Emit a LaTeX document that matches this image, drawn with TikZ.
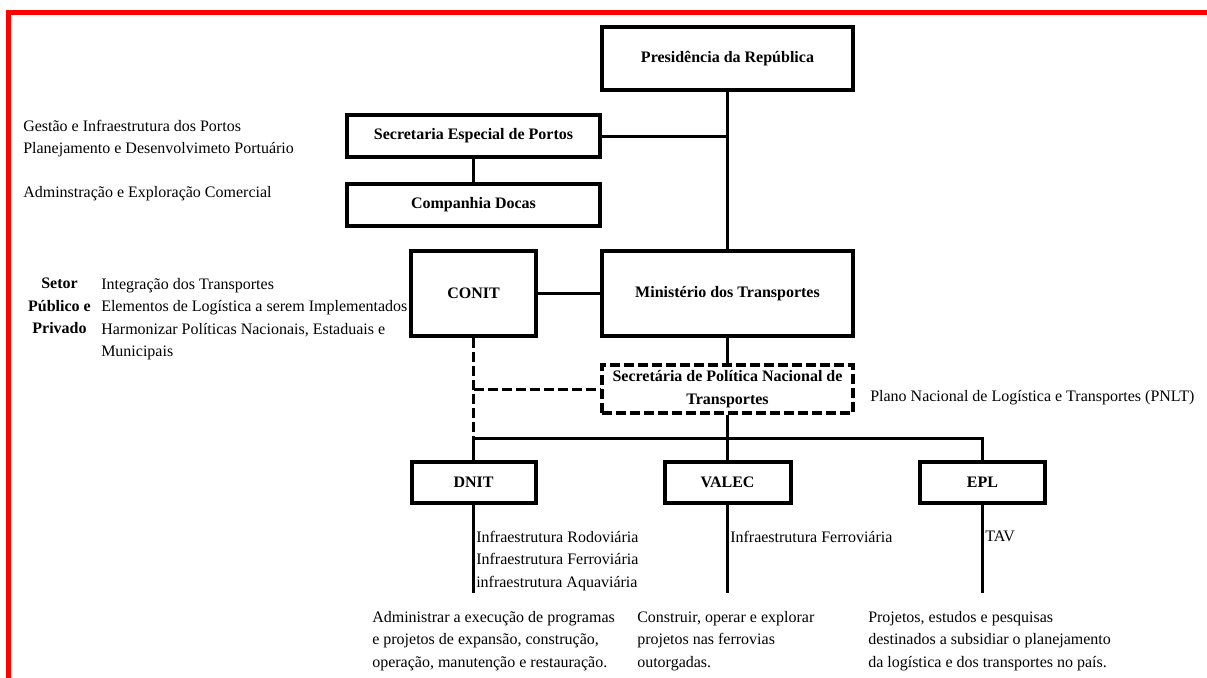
\documentclass[tikz,border=0pt]{standalone}
\usepackage{fontspec}
\setmainfont{Liberation Serif}
\newcommand{\orgfont}{\fontsize{12}{16.8}\selectfont}

\begin{document}
\begin{tikzpicture}[
    x=0.75pt, y=-0.75pt,
    % Caixas do organograma
    box/.style={draw, line width=3pt, font=\orgfont\bfseries, align=center, inner sep=0pt},
    % Caixa tracejada (secretaria)
    dbox/.style={box, dash pattern=on 7.5pt off 3pt},
    % Ligações entre as caixas
    conn/.style={line width=2.25pt},
    dconn/.style={conn, dash pattern=on 7.5pt off 3pt},
    % Textos explicativos
    note/.style={font=\orgfont, inner sep=0pt, align=left, anchor=north west},
    % Moldura vermelha
    frame/.style={red, line width=3.75pt}
]

\useasboundingbox (0,0) rectangle (1207,678);
\draw[frame] (8.5,678) -- (8.5,12.5) -- (1207,12.5);

% --- TOPO: PRESIDÊNCIA E PORTOS ---
\node[box, minimum width=188.25pt, minimum height=47.25pt] (pres) at (727.5,58.5) {Presidência da República};
\node[box, minimum width=189.75pt, minimum height=31.5pt] (sep) at (473.5,136) {Secretaria Especial de Portos};
\node[box, minimum width=189.75pt, minimum height=31.5pt] (docas) at (473.5,205) {Companhia Docas};

\node[note] (portosTxt) at (23,120) {Gestão e Infraestrutura dos Portos\\Planejamento e Desenvolvimeto Portuário};
\node[note] (docasTxt) at (23,186) {Adminstração e Exploração Comercial};

% --- MEIO: MINISTÉRIO, CONIT, SECRETARIA ---
\node[box, minimum width=93.75pt, minimum height=63.75pt] (conit) at (473.5,293.5) {CONIT};
\node[box, minimum width=188.25pt, minimum height=63.75pt] (min) at (727.5,293.5) {Ministério dos Transportes};
\node[dbox, minimum width=188.25pt, minimum height=36pt] (spnt) at (727.5,389) {Secretária de Política Nacional de\\Transportes};

\node[font=\orgfont\bfseries, inner sep=0pt, align=center, anchor=north] (setor) at (59.5,278) {Setor\\Público e\\Privado};
\node[note] (conitTxt) at (101,278) {Integração dos Transportes\\Elementos de Logística a serem Implementados\\Harmonizar Políticas Nacionais, Estaduais e\\Municipais};
\node[note] (pnltTxt) at (870,390) {Plano Nacional de Logística e Transportes (PNLT)};

% --- BASE: DNIT, VALEC, EPL ---
\node[box, minimum width=93pt, minimum height=30.75pt] (dnit) at (473.5,482.5) {DNIT};
\node[box, minimum width=94.5pt, minimum height=30.75pt] (valec) at (727.5,482.5) {VALEC};
\node[box, minimum width=93.75pt, minimum height=30.75pt] (epl) at (982.5,482.5) {EPL};

\coordinate (busL) at (473.5,438);
\coordinate (busR) at (982.5,438);
\coordinate (dnitEnd) at (473.5,593);
\coordinate (valecEnd) at (727.5,593);
\coordinate (eplEnd) at (982.5,593);

% Ligações
\draw[conn] (pres.south) -- (min.north);
\draw[conn] (sep.east) -- (sep.east -| min.north);
\draw[conn] (sep.south) -- (docas.north);
\draw[conn] (conit.east) -- (min.west);
\draw[conn] (min.south) -- (spnt.north);
\draw[dconn] (conit.south) -- (busL);
\draw[dconn] (conit.south |- spnt.west) -- (spnt.west);
\draw[conn] (busL) -- (busR) -- (epl.north);
\draw[conn] (busL) -- (dnit.north);
\draw[conn] (spnt.south) -- (valec.north);
\draw[conn] (dnit.south) -- (dnitEnd);
\draw[conn] (valec.south) -- (valecEnd);
\draw[conn] (epl.south) -- (eplEnd);

\node[note] (dnitTxt) at (476,531) {Infraestrutura Rodoviária\\Infraestrutura Ferroviária\\infraestrutura Aquaviária};
\node[note] (valecTxt) at (730,531) {Infraestrutura Ferroviária};
\node[note] (eplTxt) at (985,531) {TAV};

\node[note] (dnitObj) at (372,611) {Administrar a execução de programas\\e projetos de expansão, construção,\\operação, manutenção e restauração.};
\node[note] (valecObj) at (637,611) {Construir, operar e explorar\\projetos nas ferrovias\\outorgadas.};
\node[note] (eplObj) at (868,611) {Projetos, estudos e pesquisas\\destinados a subsidiar o planejamento\\da logística e dos transportes no país.};

\end{tikzpicture}
\end{document}
